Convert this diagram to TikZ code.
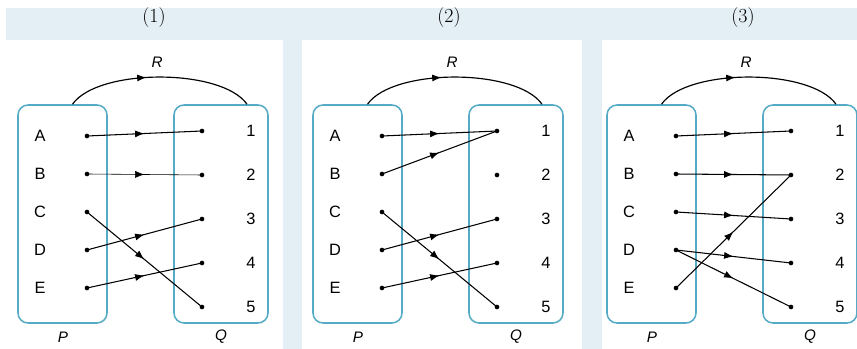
\documentclass[tikz,border=0pt]{standalone}
\usepackage{fontspec}
\setsansfont{Liberation Sans}
\usetikzlibrary{arrows.meta,decorations.markings}
\definecolor{bandc}{HTML}{E4EEF5}
\definecolor{boxc}{HTML}{55ABC6}

\begin{document}
\begin{tikzpicture}[x=0.03cm,y=-0.03cm,
    setbox/.style={draw=boxc,line width=1.3pt,rounded corners=0.3cm,minimum width=2.67cm,minimum height=6.54cm},
    elem/.style={font=\sffamily\fontsize{14}{16}\selectfont,inner sep=0pt},
    pt/.style={circle,fill=black,inner sep=0pt,minimum size=0.14cm},
    setname/.style={font=\sffamily\itshape\fontsize{13}{15}\selectfont,inner sep=0pt},
    title/.style={font=\fontsize{17}{20}\selectfont,inner sep=0pt},
    map/.style={line width=0.9pt,postaction={decorate},
      decoration={markings,mark=at position #1 with {\arrow{Latex[length=8pt,width=6pt]}}}},
    map/.default=0.5,
  ]
  \useasboundingbox (0,0) rectangle (857,349);
  \fill[bandc] (6,8) rectangle (857,349);
  \fill[white] (6,40) rectangle (283,349);
  \fill[white] (302,40) rectangle (582,349);
  \fill[white] (602,40) rectangle (857,349);
  \foreach \k/\dx in {1/0,2/295,3/589} {
    \begin{scope}[xshift=\dx*0.03cm]
      \node[title] (t\k) at (154,18) {(\k)};
      \node[setbox] (p\k) at (62.5,214) {};
      \node[setbox,minimum width=2.82cm] (q\k) at (221,214) {};
      \node[setname] (pn\k) at (63,337) {P};
      \node[setname] (qn\k) at (221,337) {Q};
      \node[setname] (r\k) at (157,62) {R};
      \foreach \lab [count=\i] in {A,B,C,D,E} {
        \node[elem] (l\k\i) at (40,{136+38*(\i-1)}) {\lab};
        \node[pt] (a\k\i) at (87,{136+38*(\i-1)}) {};
      }
      \foreach \i in {1,...,5} {
        \node[pt] (b\k\i) at (202,{131+44*(\i-1)}) {};
        \node[elem] (n\k\i) at (251,{131+44*(\i-1)}) {\i};
      }
      \coordinate (rs\k) at ([xshift=0.3cm]p\k.north);
      \coordinate (re\k) at ([xshift=0.78cm]q\k.north);
      \draw[map=0.43,line width=1pt] (rs\k) to[out=55,in=125,looseness=0.65] (re\k);
    \end{scope}
  }
  % (1)
  \draw[map] (a11.center) -- (b11.center);
  \draw[map,line width=0.5pt] (a12.center) -- (b12.center);
  \draw[map] (a13.center) -- (b15.center);
  \draw[map] (a14.center) -- (b13.center);
  \draw[map] (a15.center) -- (b14.center);
  % (2)
  \draw[map] (a21.center) -- (b21.center);
  \draw[map] (a22.center) -- (b21.center);
  \draw[map] (a23.center) -- (b25.center);
  \draw[map] (a24.center) -- (b23.center);
  \draw[map] (a25.center) -- (b24.center);
  % (3)
  \draw[map] (a31.center) -- (b31.center);
  \draw[map] (a32.center) -- (b32.center);
  \draw[map] (a33.center) -- (b33.center);
  \draw[map] (a34.center) -- (b34.center);
  \draw[map] (a34.center) -- (b35.center);
  \draw[map] (a35.center) -- (b32.center);
\end{tikzpicture}
\end{document}
